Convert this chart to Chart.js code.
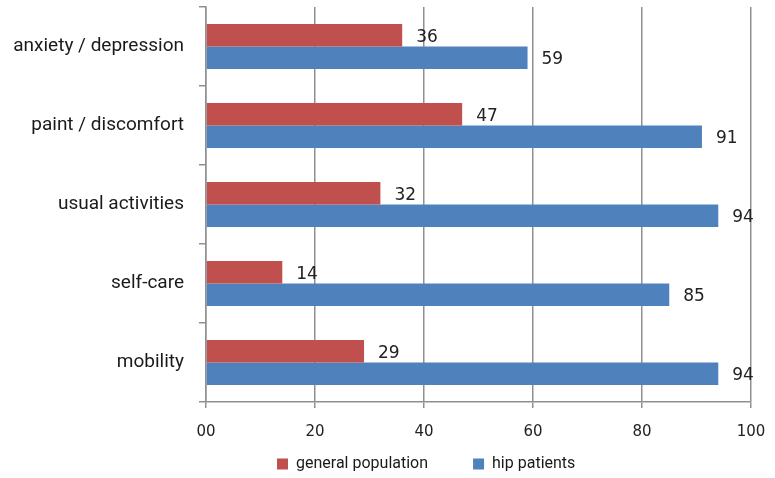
<!DOCTYPE html>
<html>
<head>
<meta charset="utf-8">
<script src="https://cdn.jsdelivr.net/npm/chart.js@4/dist/chart.umd.min.js"></script>
<style>
  html, body { margin: 0; padding: 0; background: #fff; }
  #wrap { width: 775px; height: 478px; }
</style>
</head>
<body>
<div id="wrap"><canvas id="bars"></canvas></div>
<script>
var categories = ['anxiety / depression', 'paint / discomfort', 'usual activities', 'self-care', 'mobility'];
var generalPopulation = [36, 47, 32, 14, 29];
var hipPatients = [59, 91, 94, 85, 94];
var xTicks = [0, 20, 40, 60, 80, 100];

// value labels to the right of every bar
var barValues = {
    id: 'barValues',
    afterDatasetsDraw: function (chart) {
        var ctx = chart.ctx;
        ctx.save();
        ctx.font = '17px "DejaVu Sans", Verdana, sans-serif';
        ctx.fillStyle = '#222';
        ctx.textAlign = 'left';
        ctx.textBaseline = 'middle';
        chart.data.datasets.forEach(function (ds, i) {
            chart.getDatasetMeta(i).data.forEach(function (bar, j) {
                ctx.fillText(ds.data[j], bar.x + 14, bar.y + 2);
            });
        });
        ctx.restore();
    }
};

// legend row under the axis, items spaced wide apart
var wideLegend = {
    id: 'wideLegend',
    afterDraw: function (chart) {
        var ctx = chart.ctx;
        var x = 277, y = chart.height - 14;
        ctx.save();
        ctx.font = '16px Roboto, sans-serif';
        ctx.textAlign = 'left';
        ctx.textBaseline = 'middle';
        chart.data.datasets.forEach(function (ds) {
            ctx.fillStyle = ds.backgroundColor;
            ctx.fillRect(x, y - 5.5, 11, 11);
            ctx.fillStyle = '#1a1a1a';
            ctx.fillText(ds.label, x + 19, y);
            x += 19 + ctx.measureText(ds.label).width + 45;
        });
        ctx.restore();
    }
};

var ctx = document.getElementById('bars').getContext('2d');
var myChart = new Chart(ctx, {
    type: 'bar',
    data: {
        labels: categories,
        datasets: [{
            label: 'general population',
            data: generalPopulation,
            backgroundColor: '#C0504D',
            categoryPercentage: 0.57,
            barPercentage: 1
        }, {
            label: 'hip patients',
            data: hipPatients,
            backgroundColor: '#4F81BD',
            categoryPercentage: 0.57,
            barPercentage: 1
        }]
    },
    options: {
        indexAxis: 'y',
        responsive: true,
        maintainAspectRatio: false,
        animation: false,
        layout: { padding: { top: 7, right: 24, left: 0, bottom: 30 } },
        scales: {
            x: {
                min: 0,
                max: 100,
                afterBuildTicks: function (scale) {
                    scale.ticks = xTicks.map(function (v) { return { value: v }; });
                },
                ticks: {
                    color: '#222',
                    padding: 15,
                    maxRotation: 0,
                    font: { family: '"DejaVu Sans", Verdana, sans-serif', size: 15 },
                    callback: function (v) { return v === 0 ? '00' : v; }
                },
                grid: { color: '#909090', lineWidth: 1.5, tickLength: 6 },
                border: { color: '#909090', width: 1.5 },
                afterFit: function (scale) {
                    scale.height = 46;
                    scale.paddingLeft = 0;
                    scale.paddingRight = 0;
                }
            },
            y: {
                ticks: {
                    color: '#1a1a1a',
                    padding: 15,
                    font: { family: 'Roboto, sans-serif', size: 19 }
                },
                grid: { drawOnChartArea: false, color: '#909090', lineWidth: 1.5, tickLength: 7 },
                border: { color: '#909090', width: 1.5 },
                afterFit: function (scale) {
                    scale.width = 206;
                    scale.paddingTop = 0;
                    scale.paddingBottom = 0;
                }
            }
        },
        plugins: {
            legend: { display: false },
            tooltip: { enabled: false }
        }
    },
    plugins: [barValues, wideLegend]
});
</script>
</body>
</html>
